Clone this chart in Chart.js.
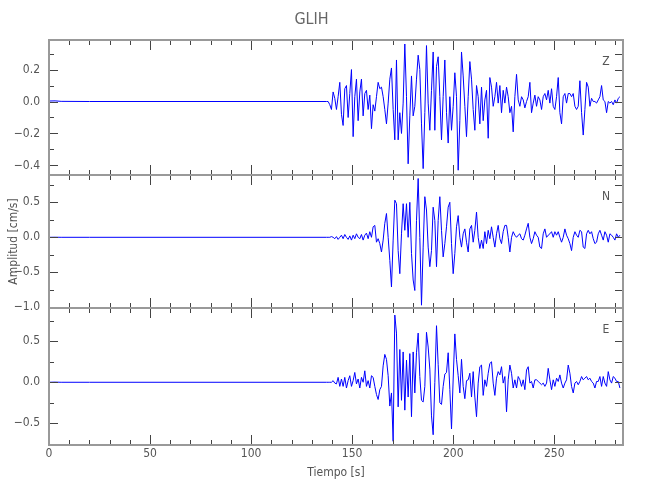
<!DOCTYPE html>
<html>
<head>
<meta charset="utf-8">
<title>GLIH</title>
<script src="https://cdn.jsdelivr.net/npm/chart.js@4.4.1/dist/chart.umd.min.js"></script>
<style>
    html, body { margin: 0; padding: 0; background: #fff; }
    #wrap { width: 650px; height: 500px; }
</style>
</head>
<body>
<div id="wrap"><canvas id="seisChart" width="650" height="500"></canvas></div>
<script>
// Station and components (top to bottom)
const station = 'GLIH';
const components = ['Z', 'N', 'E'];

// Quiet part of the record before the P arrival
const preTimes = [0, 3, 6, 20, 137.3];
const preZ = [0.003, 0.004, 0.001, 0, 0];
const preN = [0, 0.001, 0, 0, 0];
const preE = [0, 0.002, 0, 0, 0];

// Event part, one sample every dt seconds from t0 [cm/s]
const t0 = 138.1;
const dt = 0.825;

const velZ = [
    0, -0.02, -0.05, 0.06, 0.02, -0.05, 0.03, 0.12, -0.08, -0.15,
    0.08, 0.10, -0.10, 0.05, 0.20, -0.22, 0.03, 0.14, -0.12, 0.06,
    0.14, -0.09, 0.05, 0.07, -0.05, 0.04, -0.17, -0.02, -0.06, 0.03,
    0.12, 0.08, 0.09, 0.03, -0.05, -0.14, -0.01, 0.14, 0.21, -0.05,
    -0.24, 0.26, -0.24, -0.07, -0.20, -0.01, 0.36, 0.03, -0.39, -0.09,
    0.16, -0.09, -0.03, 0.14, 0.29, 0.20, -0.14, -0.42, -0.07, 0.35,
    -0.01, -0.18, 0.07, 0.31, -0.18, 0.22, 0.28, 0.03, -0.24, 0.03,
    0.26, -0.07, -0.26, 0.03, -0.18, -0.03, 0.18, 0.03, -0.43, -0.12,
    0.31, 0.16, -0.03, -0.22, 0.03, 0.25, 0.14, -0.05, -0.18, 0.10,
    0.03, -0.14, 0.09, -0.12, 0.01, 0.07, -0.23, 0.15, 0.09, -0.03,
    0.03, 0.12, -0.01, 0.10, -0.07, 0.07, -0.01, 0.09, 0.03, -0.07,
    -0.03, -0.19, 0.03, 0.17, 0.01, -0.03, 0.03, 0.01, -0.04, 0,
    0.03, 0.12, -0.07, -0.01, 0.04, -0.03, 0.03, 0.01, -0.05, 0.03,
    0.05, 0.01, 0.07, -0.01, 0.08, -0.03, -0.05, 0.03, 0.15, -0.07,
    -0.14, 0.03, 0.05, -0.01, 0.05, 0.05, 0.03, 0.05, -0.03, -0.05,
    -0.03, 0.13, -0.07, -0.21, -0.05, 0.12, 0.09, -0.03, 0.02, 0,
    0, -0.01, 0.01, 0.03, 0.10, 0.01, 0, -0.07, 0, -0.01,
    0, -0.02, 0.01, -0.01, 0.02, 0.03
];

const velN = [
    0, 0, 0.01, 0, -0.02, 0.01, -0.03, 0, 0.03, -0.02,
    0.04, 0, -0.03, 0.02, -0.04, 0.03, -0.02, 0.05, 0, -0.02,
    0.04, -0.04, 0.03, 0.06, -0.02, 0.08, 0, 0.15, 0.17, -0.07,
    -0.02, -0.09, -0.21, -0.04, 0.20, 0.34, 0, -0.33, -0.71, -0.04,
    0.53, 0.48, -0.19, -0.52, 0.05, 0.48, 0.10, 0.48, 0, 0.50,
    -0.23, -0.61, -0.76, 0.24, 0.84, 0, -0.97, -0.14, 0.58, 0.39,
    -0.14, -0.42, -0.19, 0.43, 0.24, -0.42, 0.24, 0.58, 0.10, -0.28,
    -0.09, 0.15, 0.43, 0.50, -0.09, -0.52, -0.23, 0.15, 0.31, 0,
    -0.14, 0.05, 0.12, -0.07, -0.21, 0.12, 0.17, -0.07, 0.10, 0.36,
    0, -0.16, -0.04, -0.16, 0.08, -0.09, 0.10, -0.02, 0.15, 0,
    -0.14, 0.05, 0.17, -0.02, -0.09, 0.08, 0.17, 0.17, 0, -0.21,
    0, 0.08, 0.03, 0, 0.03, 0.05, -0.02, -0.04, 0.03, 0.12,
    0.20, 0, -0.09, -0.02, 0.08, 0.03, 0, -0.14, -0.16, 0.05,
    0.12, 0, 0.03, 0.05, 0.08, 0, 0.08, 0.03, 0.08, 0,
    -0.07, 0, 0.12, 0.03, -0.02, -0.09, -0.19, 0, 0.08, 0.03,
    0, 0.10, 0.08, -0.14, -0.16, 0.05, 0.10, 0.05, 0.08, -0.02,
    -0.09, -0.07, 0.05, 0.10, 0.03, -0.04, 0.08, 0.03, -0.07, 0.05,
    0.03, 0, -0.04, 0.05, 0, 0.03
];

const velE = [
    0, 0, 0, 0.02, -0.01, -0.02, 0.06, -0.05, 0.04, -0.05,
    0.06, -0.07, 0.02, 0.08, -0.05, 0.02, 0.12, -0.02, 0.04, -0.07,
    0.06, 0, 0.14, -0.05, 0.02, -0.07, 0.08, 0.06, -0.05, -0.15,
    -0.21, -0.09, -0.05, 0.20, 0.34, 0.28, 0.08, -0.29, -0.13, -0.72,
    0.82, 0.60, -0.30, 0.40, -0.22, 0.37, -0.34, 0.27, -0.18, 0.35,
    -0.42, 0.37, -0.13, 0.36, 0.60, 0.07, -0.22, -0.24, -0.05, 0.61,
    0.43, 0.16, -0.41, -0.64, 0, 0.69, 0.22, -0.25, -0.27, -0.05,
    0.10, 0.12, 0.36, -0.09, -0.57, 0.04, 0.59, 0.28, 0.08, -0.13,
    0.28, -0.05, -0.20, 0.02, 0.03, 0.11, -0.18, 0.13, -0.18, -0.42,
    -0.01, 0.19, 0.21, -0.16, 0.03, -0.05, 0.11, 0.23, 0.25, -0.01,
    -0.16, 0.05, 0.13, 0.09, 0.19, -0.01, 0.07, -0.36, 0.03, 0.21,
    0.11, -0.07, 0.03, -0.07, 0.07, 0.03, -0.05, 0.03, -0.09, 0.15,
    0.19, -0.01, 0.01, -0.07, 0.03, 0.03, 0.01, -0.01, -0.03, -0.01,
    -0.05, -0.01, 0.17, 0.03, -0.09, 0.03, -0.05, 0.05, 0.01, 0.09,
    -0.01, -0.07, -0.01, 0.03, 0.21, 0.11, -0.05, -0.13, -0.01, 0.01,
    -0.03, 0.01, 0.07, 0.03, 0.05, 0.07, 0.03, 0.05, 0.01, -0.01,
    -0.07, 0.01, 0.01, 0.07, -0.05, 0.07, -0.01, -0.05, 0.13, 0.03,
    -0.01, 0.07, 0.05, 0.01, 0.01, -0.07
];

const FONT = "'Liberation Sans Narrow', 'DejaVu Sans Condensed', 'Arial Narrow', sans-serif";
const TEXT = '#555';

// Build {x, y} points for one component
function tracePoints(pre, vals) {
    const pts = preTimes.map((t, i) => ({ x: t, y: pre[i] }));
    vals.forEach((v, i) => pts.push({ x: t0 + i * dt, y: v }));
    return pts;
}

// Panel settings: axis id, range, major/minor tick steps
const panels = [
    { id: 'yZ', name: components[0], min: -0.46, max: 0.385, major: 0.2, minor: 0.1, weight: 135 },
    { id: 'yN', name: components[1], min: -1.01, max: 0.89, major: 0.5, minor: 0.25, weight: 133 },
    { id: 'yE', name: components[2], min: -0.765, max: 0.906, major: 0.5, minor: 0.25, weight: 137 }
];

function fmt(v) {
    const s = Math.abs(v).toFixed(1);
    return v < -1e-9 ? '\u2212' + s : s;
}

function yScale(p, withTitle) {
    return {
        type: 'linear',
        position: 'left',
        stack: 'panels',
        stackWeight: p.weight,
        min: p.min,
        max: p.max,
        grid: { display: false, drawTicks: false },
        border: { display: false },
        ticks: {
            stepSize: p.major,
            includeBounds: false,
            autoSkip: false,
            padding: 9,
            color: TEXT,
            font: { family: FONT, size: 12 },
            callback: v => fmt(v)
        },
        title: {
            display: withTitle,
            text: 'Amplitud [cm/s]',
            color: TEXT,
            font: { family: FONT, size: 12 },
            padding: { top: 7, bottom: 0 }
        },
        afterFit: s => { s.width = 49; }
    };
}

// Frames, inward ticks and component names for each panel
const panelFrames = {
    id: 'panelFrames',
    afterDatasetsDraw(chart) {
        const ctx = chart.ctx;
        const xs = chart.scales.x;
        const area = chart.chartArea;
        ctx.save();
        panels.forEach(p => {
            const ys = chart.scales[p.id];
            const top = ys.top, bottom = ys.bottom;

            ctx.strokeStyle = '#444';
            ctx.lineWidth = 1;
            ctx.beginPath();
            for (let t = 0; t <= xs.max; t += 10) {
                const px = Math.round(xs.getPixelForValue(t)) + 0.5;
                const len = t % 50 === 0 ? 10 : 5;
                ctx.moveTo(px, top);
                ctx.lineTo(px, top + len);
                ctx.moveTo(px, bottom);
                ctx.lineTo(px, bottom - len);
            }
            for (let k = Math.ceil(p.min / p.minor); k * p.minor <= p.max; k++) {
                const v = k * p.minor;
                const r = v / p.major;
                const len = Math.abs(r - Math.round(r)) < 1e-6 ? 9 : 5;
                const py = Math.round(ys.getPixelForValue(v)) + 0.5;
                ctx.moveTo(area.left, py);
                ctx.lineTo(area.left + len, py);
                ctx.moveTo(area.right, py);
                ctx.lineTo(area.right - 8, py);
            }
            ctx.stroke();

            ctx.strokeStyle = '#999';
            ctx.lineWidth = 2;
            ctx.strokeRect(area.left, top, area.right - area.left, bottom - top);

            ctx.fillStyle = TEXT;
            ctx.font = '12px ' + FONT;
            ctx.textAlign = 'center';
            ctx.textBaseline = 'middle';
            ctx.fillText(p.name, area.right - 17, top + 22);
        });
        ctx.restore();
    }
};

const traces = [preZ, preN, preE];
const values = [velZ, velN, velE];

new Chart(document.getElementById('seisChart'), {
    type: 'line',
    data: {
        datasets: panels.map((p, i) => ({
            label: p.name,
            data: tracePoints(traces[i], values[i]),
            yAxisID: p.id,
            borderColor: 'rgb(0, 0, 255)',
            borderWidth: 1,
            pointRadius: 0,
            tension: 0,
            fill: false
        }))
    },
    options: {
        responsive: false,
        animation: false,
        layout: { padding: { left: 0, right: 27, top: 0, bottom: 0 } },
        plugins: {
            legend: { display: false },
            tooltip: { enabled: false },
            title: {
                display: true,
                text: station,
                color: '#666',
                font: { family: FONT, size: 16, weight: 'normal' },
                padding: { top: 10, bottom: 10.8 }
            }
        },
        scales: {
            x: {
                type: 'linear',
                position: 'bottom',
                min: 0,
                max: 284,
                grid: { display: false, drawTicks: false },
                border: { display: false },
                ticks: {
                    stepSize: 50,
                    includeBounds: false,
                    autoSkip: false,
                    padding: 2,
                    maxRotation: 0,
                    color: TEXT,
                    font: { family: FONT, size: 12 }
                },
                title: {
                    display: true,
                    text: 'Tiempo [s]',
                    color: TEXT,
                    font: { family: FONT, size: 12 },
                    padding: { top: 0, bottom: 20 }
                },
                afterFit: s => { s.height = 55; }
            },
            // later keys are placed first in the left stack, so E comes before Z here
            yE: yScale(panels[2], false),
            yN: yScale(panels[1], true),
            yZ: yScale(panels[0], false)
        }
    },
    plugins: [panelFrames]
});
</script>
</body>
</html>
